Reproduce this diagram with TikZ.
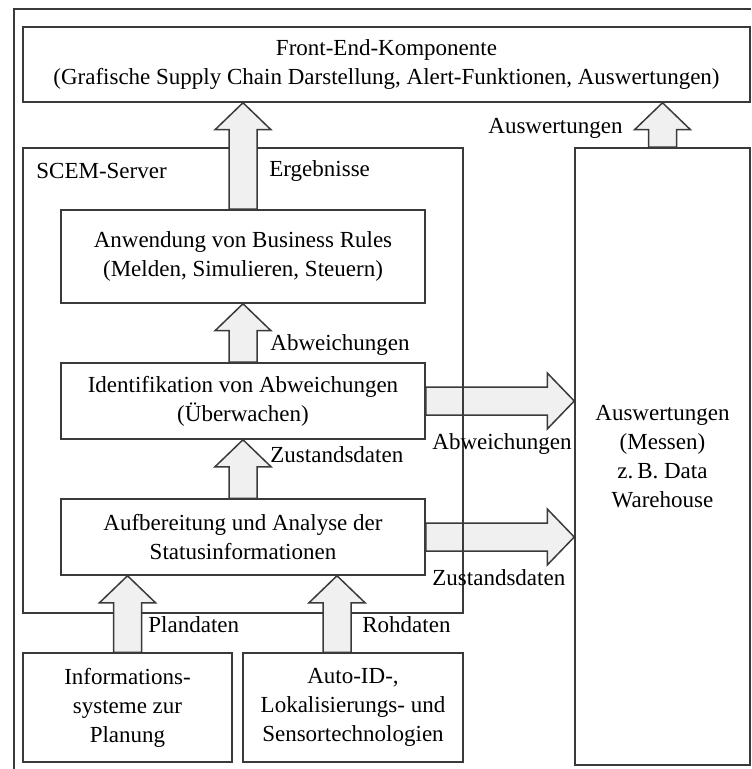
\documentclass[tikz,border=0pt]{standalone}
\usepackage{fontspec}
\setmainfont{Liberation Serif}
\usetikzlibrary{calc}
\usetikzlibrary{positioning}

\definecolor{linegray}{HTML}{3A3A3A}
\definecolor{arrowgray}{HTML}{F0F0F0}

\begin{document}
\begin{tikzpicture}[
          x=0.5pt, y=-0.5pt,
          box/.style = {rectangle, draw=linegray, line width=0.75pt, align=center, inner sep=0pt},
          lbl/.style = {anchor=west, inner sep=0pt},
          fatup/.style = {draw=linegray, line width=0.75pt, fill=arrowgray,
            to path={let \p1=(\tikztostart), \p2=(\tikztotarget) in
              (\x1-7pt,\y1) -- (\x1-7pt,\y2-13.5pt) -- (\x1-14pt,\y2-13.5pt) -- (\x1,\y2)
              -- (\x1+14pt,\y2-13.5pt) -- (\x1+7pt,\y2-13.5pt) -- (\x1+7pt,\y1) -- cycle}},
          fatright/.style = {draw=linegray, line width=0.75pt, fill=arrowgray,
            to path={let \p1=(\tikztostart), \p2=(\tikztotarget) in
              (\x1,\y1+7pt) -- (\x2-13.5pt,\y1+7pt) -- (\x2-13.5pt,\y1+14pt) -- (\x2,\y1)
              -- (\x2-13.5pt,\y1-14pt) -- (\x2-13.5pt,\y1-7pt) -- (\x1,\y1-7pt) -- cycle}},
          font = \fontsize{11.5}{14.5}\selectfont
        ]
        \useasboundingbox (0,0) rectangle (751,769);

        % Frame
        \draw[linegray, line width=0.75pt] (14,769) -- (14,9) -- (751,9);

        % Nodes
        \node[box, minimum width=363.5pt, minimum height=37.5pt] (frontend) at (386.5,64.5)
          {Front-End-Komponente\\(Grafische Supply Chain Darstellung, Alert-Funktionen, Auswertungen)};
        \node[box, minimum width=182pt, minimum height=46.5pt] (rules) at (243,256.5)
          {Anwendung von Business Rules\\(Melden, Simulieren, Steuern)};
        \node[box, minimum width=182pt, minimum height=38pt] (ident) at (243,401)
          {Identifikation von Abweichungen\\(Überwachen)};
        \node[box, minimum width=182pt, minimum height=38pt] (prep) at (243,537)
          {Aufbereitung und Analyse der\\Statusinformationen};
        \node[box, minimum width=104.5pt, minimum height=54.5pt] (plan) at (127.5,707.5)
          {Informations-\\systeme zur\\Planung};
        \node[box, minimum width=110pt, minimum height=54.5pt] (sensor) at (353,707.5)
          {Auto-ID-,\\Lokalisierungs- und\\Sensortechnologien};
        \node[box, minimum width=87.5pt, minimum height=308.5pt] (eval) at (662.5,456.5)
          {Auswertungen\\(Messen)\\z.\,B. Data\\Warehouse};

        % Paths to the evaluation box
        \draw[fatright] (ident.east) to (eval.west);
        \draw[fatright] (prep.east) to (eval.west);

        % Server frame
        \node[box, minimum width=220pt, minimum height=232.5pt] (scem) at (243,380.5) {};
        \node[lbl] (scemlabel) at (36,171) {SCEM-Server};

        % Paths upwards
        \draw[fatup] (rules.north) to (frontend.south);
        \draw[fatup] (ident.north) to (rules.south);
        \draw[fatup] (prep.north) to (ident.south);
        \draw[fatup] (plan.north) to (prep.south);
        \draw[fatup] ($(sensor.north)+(-16,0)$) to (prep.south);
        \draw[fatup] (eval.north) to (frontend.south);

        % Labels
        \node[lbl] (ergebnisse) at (269,171) {Ergebnisse};
        \node[lbl] (abwup) at (270,345) {Abweichungen};
        \node[lbl] (zustup) at (270,455) {Zustandsdaten};
        \node[lbl] (plandaten) at (148,625) {Plandaten};
        \node[lbl] (rohdaten) at (362,625) {Rohdaten};
        \node[lbl] (auswertungen) at (488,128) {Auswertungen};
        \node[lbl] (abwright) at (432,444) {Abweichungen};
        \node[lbl] (zustright) at (432,578) {Zustandsdaten};

      \end{tikzpicture}
\end{document}
